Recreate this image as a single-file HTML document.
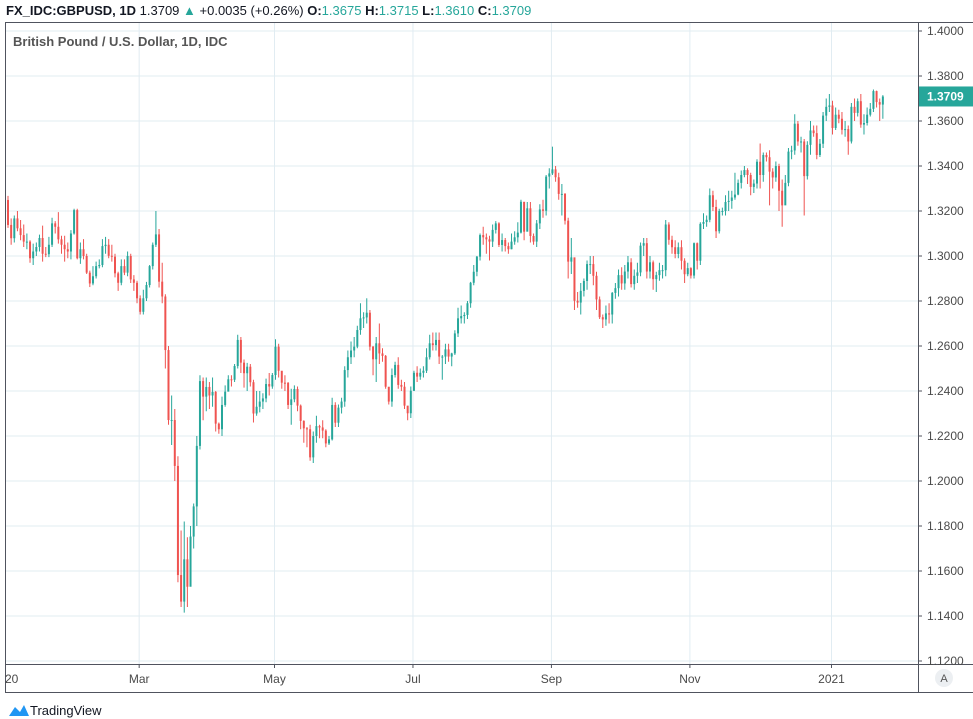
<!DOCTYPE html>
<html><head><meta charset="utf-8">
<style>
body{margin:0;width:973px;height:719px;background:#fff;overflow:hidden;font-family:"Liberation Sans",sans-serif;position:relative}
#hdr{position:absolute;left:6px;top:3px;font-size:13px;color:#131722;white-space:nowrap}
#hdr b{font-weight:bold}
.g{color:#26a69a}
#logo{position:absolute;left:8px;top:703px;font-size:13px;color:#131722}
</style></head><body>
<div id="hdr"><b>FX_IDC:GBPUSD, 1D</b> 1.3709 <span class="g">▲</span> +0.0035 (+0.26%) <b>O:</b><span class="g">1.3675</span> <b>H:</b><span class="g">1.3715</span> <b>L:</b><span class="g">1.3610</span> <b>C:</b><span class="g">1.3709</span></div>
<svg id="chart" width="973" height="719" style="position:absolute;left:0;top:0"></svg>
<div id="logo"><svg width="22" height="14" style="vertical-align:-2px"><path d="M1 13 L7 4 L12 9 L16 2 L21 13 Z" fill="#2196f3"/></svg>TradingView</div>
<script>
const closes=[1.3138,1.3079,1.3167,1.3123,1.3093,1.3064,1.3064,1.299,1.302,1.304,
1.308,1.301,1.3008,1.305,1.3145,1.313,1.3074,1.305,1.303,1.302,
1.310,1.3204,1.299,1.303,1.300,1.2926,1.2878,1.291,1.2955,1.296,
1.3044,1.305,1.3001,1.2997,1.2923,1.2881,1.2955,1.2926,1.300,1.2896,
1.2881,1.2812,1.2752,1.2812,1.2871,1.2955,1.305,1.3096,1.2886,1.282,
1.2582,1.2271,1.2271,1.2067,1.1582,1.1464,1.1652,1.153,1.1753,1.1887,
1.2156,1.2444,1.2375,1.2418,1.238,1.2396,1.2255,1.223,1.2338,1.2397,
1.2452,1.245,1.2511,1.2627,1.2526,1.2479,1.2508,1.2439,1.23,1.233,
1.2353,1.2367,1.2431,1.242,1.2471,1.2597,1.249,1.2437,1.2436,1.2338,
1.2363,1.2409,1.2335,1.2267,1.2234,1.223,1.2105,1.22,1.2244,1.2238,
1.2224,1.2167,1.2185,1.2338,1.2259,1.2326,1.2353,1.2493,1.255,1.258,
1.2597,1.2671,1.2723,1.2727,1.2748,1.2597,1.2541,1.2612,1.2567,1.2556,
1.2419,1.2353,1.2471,1.2516,1.2427,1.2419,1.2335,1.2301,1.2401,1.2481,
1.2464,1.2481,1.249,1.255,1.2612,1.2604,1.2627,1.2553,1.2553,1.2585,
1.2553,1.2567,1.2656,1.2723,1.2733,1.2738,1.279,1.2881,1.293,1.2997,
1.3093,1.3083,1.3074,1.3064,1.3116,1.3145,1.3049,1.3071,1.3044,1.303,
1.3064,1.3083,1.3104,1.3241,1.3108,1.3212,1.3089,1.3064,1.3145,1.3207,
1.3201,1.3353,1.3367,1.3385,1.335,1.3276,1.3276,1.3157,1.2975,1.2994,
1.2801,1.2793,1.2845,1.2889,1.2964,1.2964,1.2912,1.2807,1.2728,1.2718,
1.2745,1.274,1.2836,1.2857,1.2915,1.2878,1.2931,1.2972,1.2875,1.2912,
1.2927,1.3046,1.3057,1.2931,1.2972,1.2897,1.2915,1.2937,1.2937,1.314,
1.3072,1.3039,1.3009,1.3039,1.2979,1.2919,1.2946,1.2913,1.3057,1.2979,
1.3143,1.3151,1.3161,1.327,1.3218,1.311,1.32,1.32,1.324,1.3245,
1.326,1.3273,1.3325,1.336,1.3382,1.336,1.3307,1.3322,1.3419,1.336,
1.3449,1.3439,1.3375,1.3349,1.34,1.329,1.3225,1.3325,1.3464,1.3469,
1.3588,1.3509,1.3509,1.3355,1.3494,1.3558,1.3546,1.3449,1.3499,1.3624,
1.3663,1.3669,1.3569,1.3628,1.361,1.3561,1.3564,1.3509,1.3663,1.3636,
1.3688,1.3584,1.3591,1.3628,1.3654,1.3733,1.3684,1.3673,1.3709];
const highs=[1.3267,1.3167,1.318,1.32,1.316,1.314,1.31,1.307,1.3055,1.306,
1.3095,1.3135,1.304,1.3085,1.317,1.3155,1.3195,1.309,1.309,1.306,
1.3115,1.321,1.321,1.306,1.3075,1.301,1.2935,1.2955,1.2975,1.2985,
1.3075,1.3085,1.3075,1.305,1.301,1.293,1.2985,1.2985,1.302,1.301,
1.2915,1.289,1.2825,1.285,1.2885,1.296,1.306,1.32,1.312,1.297,
1.283,1.26,1.238,1.232,1.211,1.178,1.182,1.175,1.18,1.19,
1.22,1.247,1.246,1.246,1.244,1.246,1.24,1.226,1.2375,1.2425,
1.247,1.247,1.252,1.265,1.264,1.254,1.2525,1.252,1.245,1.24,
1.24,1.239,1.2455,1.248,1.248,1.263,1.261,1.248,1.247,1.244,
1.241,1.2425,1.242,1.234,1.227,1.224,1.225,1.222,1.229,1.225,
1.227,1.223,1.22,1.237,1.235,1.234,1.237,1.251,1.258,1.262,
1.264,1.269,1.279,1.275,1.2812,1.276,1.26,1.264,1.27,1.259,
1.256,1.24,1.25,1.253,1.255,1.245,1.244,1.233,1.242,1.249,
1.251,1.25,1.251,1.259,1.265,1.266,1.266,1.266,1.256,1.261,
1.261,1.257,1.267,1.277,1.278,1.275,1.28,1.2885,1.296,1.3,
1.31,1.313,1.31,1.309,1.314,1.3155,1.315,1.31,1.308,1.306,
1.31,1.311,1.315,1.325,1.324,1.324,1.324,1.31,1.316,1.323,
1.325,1.336,1.339,1.3486,1.34,1.337,1.332,1.328,1.317,1.308,
1.298,1.284,1.288,1.29,1.298,1.3,1.3,1.293,1.282,1.274,
1.278,1.279,1.284,1.288,1.294,1.295,1.296,1.3,1.299,1.294,
1.297,1.306,1.308,1.308,1.3,1.298,1.293,1.297,1.296,1.316,
1.315,1.309,1.307,1.306,1.307,1.299,1.297,1.295,1.306,1.306,
1.315,1.319,1.318,1.33,1.329,1.325,1.321,1.3215,1.327,1.329,
1.329,1.337,1.334,1.338,1.34,1.339,1.337,1.334,1.343,1.35,
1.346,1.346,1.347,1.339,1.342,1.341,1.334,1.336,1.348,1.349,
1.363,1.36,1.353,1.352,1.351,1.36,1.358,1.358,1.352,1.364,
1.37,1.372,1.369,1.366,1.365,1.364,1.36,1.358,1.368,1.37,
1.37,1.372,1.363,1.366,1.368,1.374,1.3735,1.37,1.3715];
const lows=[1.3125,1.305,1.306,1.311,1.307,1.304,1.303,1.297,1.296,1.3,
1.302,1.2975,1.2995,1.2995,1.304,1.31,1.3055,1.301,1.2975,1.299,
1.2985,1.3095,1.2985,1.2965,1.2985,1.292,1.2862,1.287,1.29,1.2945,
1.295,1.301,1.299,1.2975,1.2905,1.2845,1.287,1.2915,1.291,1.288,
1.2845,1.279,1.274,1.274,1.28,1.286,1.294,1.304,1.286,1.279,
1.25,1.225,1.216,1.2,1.155,1.144,1.1415,1.144,1.156,1.17,
1.18,1.214,1.227,1.231,1.232,1.233,1.222,1.221,1.22,1.233,
1.24,1.242,1.244,1.25,1.248,1.2415,1.24,1.242,1.226,1.229,
1.2305,1.232,1.235,1.238,1.241,1.245,1.246,1.241,1.24,1.232,
1.225,1.235,1.231,1.223,1.217,1.215,1.209,1.208,1.217,1.219,
1.219,1.215,1.216,1.218,1.224,1.224,1.23,1.233,1.246,1.252,
1.255,1.259,1.265,1.268,1.27,1.258,1.247,1.244,1.252,1.253,
1.241,1.234,1.233,1.246,1.241,1.24,1.232,1.227,1.228,1.24,
1.244,1.245,1.246,1.248,1.254,1.258,1.258,1.252,1.245,1.252,
1.253,1.251,1.256,1.264,1.27,1.27,1.272,1.277,1.287,1.291,
1.298,1.305,1.301,1.298,1.304,1.31,1.304,1.302,1.302,1.301,
1.303,1.305,1.306,1.31,1.307,1.313,1.306,1.305,1.304,1.312,
1.317,1.318,1.33,1.336,1.333,1.325,1.318,1.314,1.29,1.292,
1.276,1.277,1.274,1.282,1.285,1.292,1.287,1.276,1.272,1.268,
1.269,1.27,1.27,1.281,1.282,1.285,1.285,1.29,1.286,1.285,
1.288,1.291,1.3,1.29,1.29,1.285,1.284,1.289,1.29,1.291,
1.305,1.301,1.299,1.299,1.294,1.288,1.291,1.29,1.29,1.294,
1.296,1.312,1.313,1.315,1.32,1.308,1.31,1.318,1.318,1.32,
1.321,1.325,1.327,1.33,1.335,1.332,1.327,1.328,1.33,1.33,
1.333,1.342,1.3225,1.33,1.333,1.32,1.313,1.326,1.331,1.343,
1.345,1.349,1.346,1.318,1.334,1.345,1.353,1.343,1.344,1.348,
1.36,1.364,1.354,1.356,1.359,1.354,1.353,1.345,1.35,1.36,
1.362,1.357,1.354,1.358,1.362,1.364,1.366,1.36,1.361];
const firstOpen=1.3249;
const priceTicks=[1.40,1.38,1.36,1.34,1.32,1.30,1.28,1.26,1.24,1.22,1.20,1.18,1.16,1.14,1.12];
const monthLabels=["20","Mar","May","Jul","Sep","Nov","2021"];
const monthIndex=[-1,42,85,129,173,217,262];

const NS="http://www.w3.org/2000/svg";
const svg=document.getElementById('chart');
const X0=7,DX=3.147;
function xs(i){return X0+i*DX;}
function ys(p){return 31+(1.4-p)*2250;}
function mk(t,a,parent){const e=document.createElementNS(NS,t);for(const k in a)e.setAttribute(k,a[k]);(parent||svg).appendChild(e);return e;}
// grid
priceTicks.forEach(p=>{const l=mk('line',{x1:5,x2:918,y1:ys(p),y2:ys(p),stroke:'#e1ecf2','stroke-width':1});

});
monthIndex.forEach(i=>{if(i<0)return;const l=mk('line',{x1:xs(i),x2:xs(i),y1:22,y2:664,stroke:'#e1ecf2','stroke-width':1});

});
// candles
const cg=mk('g',{});


closes.forEach((c,i)=>{
 const o=i===0?firstOpen:closes[i-1];
 const up=c>=o,col=up?'#26a69a':'#ef5350',x=xs(i);
 const g=mk('g',{},cg);
 
 
 mk('line',{x1:x+1,x2:x+1,y1:ys(highs[i]),y2:ys(lows[i]),stroke:col,'stroke-width':1},g);
 const t=ys(Math.max(o,c)),b=ys(Math.min(o,c));
 mk('rect',{x:x,y:t,width:2,height:Math.max(1,b-t),fill:col},g);
});
// frame
const fr=mk('rect',{x:5.5,y:22.5,width:975,height:670,fill:'none',stroke:'#50535e','stroke-width':1});


mk('line',{x1:918.5,x2:918.5,y1:22,y2:692,stroke:'#50535e'});
mk('line',{x1:5,x2:973,y1:664.5,y2:664.5,stroke:'#50535e'});
// price labels
priceTicks.forEach(p=>{
 mk('line',{x1:918,x2:922,y1:ys(p),y2:ys(p),stroke:'#50535e'});
 const t=mk('text',{x:927,y:ys(p)+4,'font-size':12,fill:'#4a4a4a','font-family':'Liberation Sans'});
 t.textContent=p.toFixed(4);
 
 
});
// last price
const lp=closes[closes.length-1];
const lr=mk('rect',{x:919,y:ys(lp)-10,width:54,height:20,fill:'#26a69a'});


const lt=mk('text',{x:927,y:ys(lp)+4,'font-size':12,'font-weight':'bold',fill:'#fff','font-family':'Liberation Sans'});
lt.textContent=lp.toFixed(4);
// time labels
monthLabels.forEach((m,k)=>{
 const x=monthIndex[k]<0?4:xs(monthIndex[k]);
 if(monthIndex[k]>=0)mk('line',{x1:x,x2:x,y1:664,y2:668,stroke:'#50535e'});
 const t=mk('text',{x:monthIndex[k]<0?5:x,y:683,'font-size':12,fill:'#4a4a4a','text-anchor':monthIndex[k]<0?'start':'middle','font-family':'Liberation Sans'});
 t.textContent=m;
 
 
});
const ac=mk('circle',{cx:944,cy:678,r:9,fill:'#eceff2'});


const at=mk('text',{x:944,y:682,'font-size':11,fill:'#555','text-anchor':'middle'});at.textContent='A';
const st=mk('text',{x:13,y:46,'font-size':13,'font-weight':'bold',fill:'#555','font-family':'Liberation Sans'});
st.textContent='British Pound / U.S. Dollar, 1D, IDC';


</script>
</body></html>
